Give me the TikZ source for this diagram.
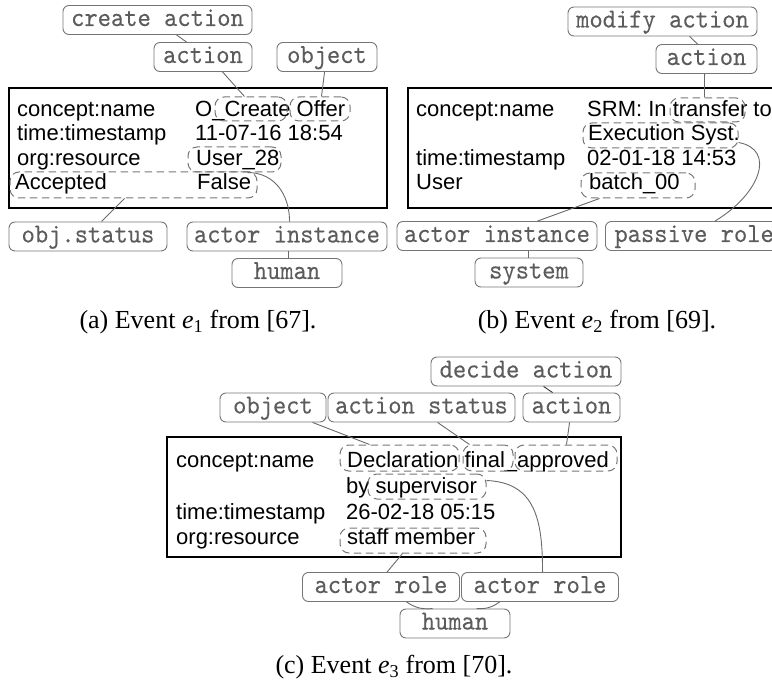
\documentclass[tikz,border=0pt]{standalone}
\usepackage{fontspec}
\newfontfamily\helv{Liberation Sans}
\newfontfamily\capserif{Liberation Serif}
\newfontfamily\lblmono{lmmono10-regular.otf}[FakeStretch=0.92,FakeBold=0.2]
\usetikzlibrary{calc}
\definecolor{lblline}{HTML}{767676}
\definecolor{lbltext}{HTML}{5C5C5C}
\definecolor{wirecol}{HTML}{6A6A6A}
\definecolor{dashcol}{HTML}{767676}
\begin{document}
\begin{tikzpicture}[x=1pt,y=-1pt,
  lbl/.style={draw=lblline, line width=0.9pt, rounded corners=6pt, text=lbltext,
    font=\lblmono\fontsize{27.5}{27.5}\selectfont, minimum height=29pt,
    inner xsep=6pt, inner ysep=0pt, text height=16pt, text depth=4pt},
  txt/.style={anchor=base west, inner sep=0pt, font=\helv\fontsize{22}{24}\selectfont},
  evbox/.style={draw=black, line width=1.3pt, inner sep=0pt},
  hl/.style={draw=dashcol, line width=1pt, dash pattern=on 7.5pt off 4.5pt,
    rounded corners=9pt, inner sep=0pt, minimum height=25pt},
  wire/.style={draw=wirecol, line width=0.9pt},
  captext/.style={font=\capserif\fontsize{26}{26}\selectfont, inner sep=0pt}
]
\clip (0,0) rectangle (772,687);

% ---------------- (a) event e1 ----------------
\node[evbox, minimum width=378pt, minimum height=120pt] (ev1) at (198,148) {};
\node[txt] (k1a) at (17,117) {concept:name};
\node[txt] (v1a) at (195,117) {O\_Create Offer};
\node[txt] (k1b) at (17,141) {time:timestamp};
\node[txt] (v1b) at (195,141) {11-07-16 18:54};
\node[txt] (k1c) at (17,166) {org:resource};
\node[txt] (v1c) at (196,166) {User\_28};
\node[txt] (k1d) at (15,190) {Accepted};
\node[txt] (v1d) at (197,190) {False};

\node[hl, minimum width=72pt, minimum height=24pt] (dCreate) at (251,109) {};
\node[hl, minimum width=60pt, minimum height=24pt] (dOffer) at (320,109) {};
\node[hl, minimum width=93pt] (dUser) at (234.5,159.5) {};
\node[hl, minimum width=247pt, minimum height=26pt] (dAcc) at (133.5,185) {};

\node[lbl, minimum width=189pt] (ca) at (157.5,20) {create action};
\node[lbl, minimum width=98pt] (a1) at (203,57) {action};
\node[lbl, minimum width=100pt] (o1) at (327,57) {object};
\node[lbl, minimum width=158pt] (os) at (88,236.5) {obj.status};
\node[lbl, minimum width=200pt] (ai1) at (287,236.5) {actor instance};
\node[lbl, minimum width=110pt] (h1) at (287,273) {human};

\draw[wire] ([xshift=114pt]ca.south west) -- ([xshift=33pt]a1.north west);
\draw[wire] ([xshift=69pt]a1.south west) -- ([xshift=30pt]dCreate.north west);
\draw[wire] ([xshift=48pt]o1.south west) -- ([xshift=32pt]dOffer.north west);
\draw[wire] ([xshift=115pt]dAcc.south west) -- ([xshift=93pt]os.north west);
\draw[wire] ([xshift=60pt]dUser.south west) .. controls +(27,0) and +(0,-27) .. ([xshift=103pt]ai1.north west);
\draw[wire] ([xshift=102pt]ai1.south west) -- ([xshift=57pt]h1.north west);

\node[captext] (capa) at (198,322) {(a) Event {\itshape e}\textsubscript{1} from [67].};

% ---------------- (b) event e2 ----------------
\node[evbox, minimum width=382pt, minimum height=120pt] (ev2) at (599,148) {};
\node[txt] (k2a) at (416,117) {concept:name};
\node[txt] (v2a) at (587,117) {SRM: In transfer to};
\node[txt] (v2b) at (588,141) {Execution Syst.};
\node[txt] (k2c) at (416,166) {time:timestamp};
\node[txt] (v2c) at (587,166) {02-01-18 14:53};
\node[txt] (k2d) at (416,190) {User};
\node[txt] (v2d) at (589,190) {batch\_00};

\node[hl, minimum width=75pt, minimum height=24pt] (dTrans) at (707.5,110) {};
\node[hl, minimum width=155pt] (dExec) at (660.5,135.5) {};
\node[hl, minimum width=114pt] (dBatch) at (638,185.5) {};

\node[lbl, minimum width=189pt] (ma) at (662.5,21.5) {modify action};
\node[lbl, minimum width=101pt] (a2) at (706.5,59) {action};
\node[lbl, minimum width=200pt] (ai2) at (497,236) {actor instance};
\node[lbl, anchor=west, inner xsep=9pt] (pr) at (605,236) {passive role\rule{40pt}{0pt}};
\node[lbl, minimum width=108pt] (sys) at (529,272.5) {system};

\draw[wire] ([xshift=122pt]ma.south west) -- ([xshift=42pt]a2.north west);
\draw[wire] ([xshift=49pt]a2.south west) -- ([xshift=35pt]dTrans.north west);
\draw[wire] ([xshift=19pt]dBatch.south west) -- ([xshift=141pt]ai2.north west);
\draw[wire] ([yshift=-7pt]dExec.east) .. controls +(38,7) and +(45,-27) .. ([xshift=110pt]pr.north west);
\draw[wire] ([xshift=132pt]ai2.south west) -- ([xshift=54pt]sys.north west);

\node[captext] (capb) at (597,322) {(b) Event {\itshape e}\textsubscript{2} from [69].};

% ---------------- (c) event e3 ----------------
\node[evbox, minimum width=454pt, minimum height=120pt] (ev3) at (394,497) {};
\node[txt] (k3a) at (176,467) {concept:name};
\node[txt] (v3a) at (347,467) {Declaration final\_approved};
\node[txt] (v3b) at (346,493) {by supervisor};
\node[txt] (k3c) at (176,519) {time:timestamp};
\node[txt] (v3c) at (346,519) {26-02-18 05:15};
\node[txt] (k3d) at (176,544) {org:resource};
\node[txt] (v3d) at (347,544) {staff member};

\node[hl, minimum width=119pt, minimum height=26pt] (dDecl) at (399.5,458) {};
\node[hl, minimum width=50pt, minimum height=26pt] (dFinal) at (488,458) {};
\node[hl, minimum width=102pt, minimum height=26pt] (dAppr) at (566,458) {};
\node[hl, minimum width=118pt] (dSup) at (427,486.5) {};
\node[hl, minimum width=146pt] (dStaff) at (413,540.5) {};

\node[lbl, minimum width=190pt] (da) at (526,371.5) {decide action};
\node[lbl, minimum width=106pt] (o3) at (273,407.5) {object};
\node[lbl, minimum width=187pt] (as) at (421.5,407.5) {action status};
\node[lbl, minimum width=97pt] (a3) at (571.5,407.5) {action};
\node[lbl, minimum width=157pt] (ar1) at (381,587) {actor role};
\node[lbl, minimum width=157pt] (ar2) at (540,587) {actor role};
\node[lbl, minimum width=110pt] (h3) at (455,623.5) {human};

\draw[wire, draw=black!80] ([xshift=113pt]da.south west) -- ([xshift=30pt]a3.north west);
\draw[wire] ([xshift=93pt]o3.south west) -- ([xshift=30pt]dDecl.north west);
\draw[wire] ([xshift=110pt]as.south west) -- ([xshift=7pt]dFinal.north west);
\draw[wire] ([xshift=47pt]a3.south west) -- ([xshift=52pt]dAppr.north west);
\draw[wire] ([xshift=63pt]dStaff.south west) -- ([xshift=85pt]ar1.north west);
\draw[wire] ([yshift=6pt]dSup.east) .. controls +(49,2) and +(0,-52) .. ([xshift=81.5pt]ar2.north west);
\draw[wire] ([xshift=104.5pt]ar1.south west) to[bend right=20] ([xshift=33pt]h3.north west);
\draw[wire] ([xshift=38.5pt]ar2.south west) to[bend left=20] ([xshift=77pt]h3.north west);

\node[captext] (capc) at (394,667) {(c) Event {\itshape e}\textsubscript{3} from [70].};
\end{tikzpicture}
\end{document}
